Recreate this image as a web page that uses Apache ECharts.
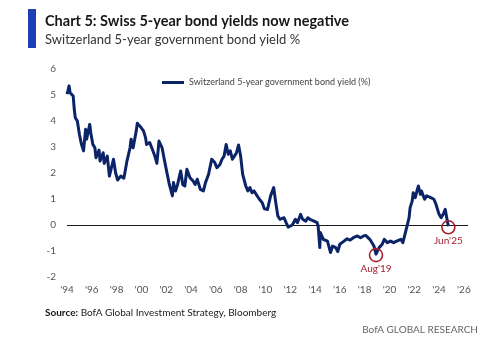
<!DOCTYPE html>
<html>
<head>
<meta charset="utf-8">
<script src="https://cdn.jsdelivr.net/npm/echarts@6/dist/echarts.min.js"></script>
<style>
  html, body { margin: 0; padding: 0; background: #fff; }
  #chart { width: 500px; height: 343px; }
</style>
</head>
<body>
<div id="chart"></div>
<script>
// Switzerland 5-year government bond yield (%), series begins Sep 1994
const dates = [
  '1994-09','1994-10','1994-11','1994-12','1995-03','1995-04','1995-05','1995-07','1995-09','1995-11',
  '1996-01','1996-03','1996-04','1996-07','1996-08','1996-10','1996-12','1997-01','1997-04','1997-05',
  '1997-08','1997-09','1997-12','1998-02','1998-05','1998-06','1998-08','1998-10','1999-01','1999-04',
  '1999-05','1999-07','1999-10','1999-11','2000-01','2000-04','2000-05','2000-08','2000-11','2001-01',
  '2001-02','2001-05','2001-07','2001-10','2001-12','2002-02','2002-05','2002-07','2002-10','2002-12',
  '2003-03','2003-04','2003-06','2003-08','2003-11','2004-01','2004-03','2004-05','2004-08','2004-11',
  '2005-01','2005-03','2005-06','2005-09','2005-11','2006-02','2006-05','2006-08','2006-10','2007-01',
  '2007-03','2007-05','2007-07','2007-09','2007-11','2008-01','2008-03','2008-05','2008-07','2008-09',
  '2008-11','2009-02','2009-04','2009-06','2009-08','2009-10','2010-01','2010-03','2010-06','2010-08',
  '2010-11','2011-02','2011-05','2011-07','2011-09','2011-11','2012-03','2012-05','2012-07','2012-11',
  '2013-02','2013-04','2013-07','2013-09','2013-12','2014-02','2014-04','2014-08','2014-11','2014-12',
  '2015-01-20','2015-02-05','2015-05','2015-09','2015-12','2016-02','2016-05','2016-07','2016-09','2017-01',
  '2017-04','2017-07','2017-10','2018-02','2018-05','2018-08','2018-10','2019-02','2019-06','2019-08',
  '2019-11','2020-02','2020-04','2020-07','2020-10','2021-01','2021-04','2021-08','2021-10','2021-12',
  '2022-02','2022-04','2022-05','2022-07','2022-08','2022-10','2022-12','2023-01','2023-03','2023-04',
  '2023-07','2023-09','2024-01','2024-04','2024-06','2024-09','2024-11','2025-01','2025-03','2025-05',
  '2025-06'
];
const yields = [
  5.03, 5.18, 5.35, 5.09, 4.96, 4.46, 4.13, 4.00, 3.49, 3.10,
  2.85, 3.68, 3.30, 3.87, 3.55, 3.10, 2.97, 2.59, 2.88, 2.46,
  2.78, 2.37, 2.65, 1.88, 2.37, 2.53, 2.01, 1.73, 1.88, 1.80,
  2.01, 2.46, 2.97, 3.30, 2.97, 3.62, 3.91, 3.78, 3.62, 3.36,
  3.10, 3.17, 2.97, 2.65, 2.37, 3.23, 2.97, 2.55, 1.95, 1.56,
  1.12, 1.63, 1.31, 1.56, 2.08, 1.56, 1.50, 2.14, 1.82, 1.69,
  1.56, 1.76, 1.37, 1.31, 1.63, 1.95, 2.53, 2.40, 2.20, 2.33,
  2.53, 2.65, 3.10, 2.72, 2.85, 2.53, 2.65, 2.78, 3.08, 2.65,
  1.95, 1.50, 1.31, 1.44, 1.24, 1.31, 1.12, 1.00, 0.85, 0.62,
  0.60, 1.12, 1.44, 0.86, 0.35, 0.22, 0.28, 0.09, -0.08, 0.00,
  0.22, 0.09, 0.41, 0.22, 0.15, 0.28, 0.22, 0.15, 0.09, -0.04,
  -0.87, -0.29, -0.55, -0.62, -1.06, -0.81, -0.87, -1.02, -0.74, -0.62,
  -0.53, -0.58, -0.49, -0.42, -0.49, -0.42, -0.40, -0.55, -0.81, -1.12,
  -0.87, -0.74, -0.55, -0.68, -0.62, -0.68, -0.62, -0.55, -0.68, -0.36,
  -0.04, 0.28, 0.67, 0.92, 1.24, 1.05, 1.37, 1.50, 1.18, 1.31,
  0.99, 1.12, 1.05, 0.99, 0.80, 0.41, 0.28, 0.41, 0.60, 0.15,
  -0.05
];
const yTicks = [-2, -1, 0, 1, 2, 3, 4, 5, 6];
const callouts = [
  { date: '2019-08', label: "Aug'19" },
  { date: '2025-06', label: "Jun'25" }
];

const NAVY = '#0b2468';
const RED = '#a3202f';
const FONT = 'Lato, "Open Sans", sans-serif';

// x axis runs in months since the first observation (Sep 1994)
function monthIndex(s) {
  const p = s.split('-').map(Number);
  const day = p[2] || 1;
  return (p[0] - 1994) * 12 + (p[1] - 9) + (day - 1) / 31;
}
function yearOfIndex(v) {
  return 1994 + Math.floor((v + 8) / 12);
}

const points = dates.map((d, i) => [monthIndex(d), yields[i]]);

const markers = callouts.map(c => {
  const i = dates.indexOf(c.date);
  return {
    coord: [monthIndex(c.date), yields[i]],
    name: c.label,
    label: { formatter: c.label }
  };
});

const chart = echarts.init(document.getElementById('chart'), null, { renderer: 'canvas' });

chart.setOption({
  animation: false,
  backgroundColor: '#ffffff',
  textStyle: { fontFamily: FONT },
  grid: { left: 67, right: 32, top: 69, bottom: 66 },
  graphic: [
    { type: 'rect', left: 28, top: 9, shape: { width: 8, height: 39 }, style: { fill: '#1c40b3' } },
    { type: 'text', left: 45, top: 14,
      style: { text: 'Chart 5: Swiss 5-year bond yields now negative', fill: '#161616',
               font: 'bold 14.5px ' + FONT } },
    { type: 'text', left: 45, top: 33,
      style: { text: 'Switzerland 5-year government bond yield %', fill: '#333333',
               font: '13px ' + FONT } },
    { type: 'text', left: 45, top: 308,
      style: { text: '{b|Source:} BofA Global Investment Strategy, Bloomberg',
               rich: { b: { fontWeight: 'bold', fontSize: 10, fontFamily: FONT, fill: '#161616' } },
               font: '10px ' + FONT, fill: '#222222' } },
    { type: 'text', right: 22, top: 325,
      style: { text: 'BofA GLOBAL RESEARCH', fill: '#666666', font: '10px ' + FONT } }
  ],
  legend: {
    left: 157, top: 73,
    icon: 'rect', itemWidth: 22, itemHeight: 3, itemGap: 4,
    textStyle: { fontSize: 9, color: '#444444', fontFamily: FONT },
    data: ['Switzerland 5-year government bond yield (%)']
  },
  xAxis: {
    type: 'value',
    min: 0, max: 388, interval: 24,
    axisLine: { show: false },
    axisTick: { show: false },
    splitLine: { show: false },
    axisLabel: {
      color: '#555555', fontSize: 10, margin: 8, fontFamily: FONT,
      formatter: v => (Math.abs(v / 24 - Math.round(v / 24)) > 0.01 ? '' :
        "'" + String(yearOfIndex(v)).slice(2))
    }
  },
  yAxis: {
    type: 'value',
    min: yTicks[0], max: yTicks[yTicks.length - 1], interval: 1,
    axisLine: { show: false },
    axisTick: { show: false },
    splitLine: { show: false },
    axisLabel: { color: '#555555', fontSize: 10, margin: 11, fontFamily: FONT }
  },
  series: [{
    name: 'Switzerland 5-year government bond yield (%)',
    type: 'line',
    data: points,
    showSymbol: false,
    symbol: 'none',
    color: NAVY,
    lineStyle: { color: NAVY, width: 3, join: 'round' },
    z: 3,
    markLine: {
      silent: true,
      symbol: 'none',
      label: { show: false },
      lineStyle: { color: '#1a1a1a', width: 1, type: 'solid' },
      data: [{ yAxis: 0 }],
      z: 2
    },
    markPoint: {
      symbol: 'circle',
      symbolSize: 13,
      symbolOffset: [0, 1],
      itemStyle: { color: 'rgba(255,255,255,0)', borderColor: RED, borderWidth: 1.6 },
      label: {
        show: true, position: 'bottom', distance: 1,
        color: RED, fontSize: 10, fontFamily: FONT
      },
      data: markers
    }
  }]
});
</script>
</body>
</html>
